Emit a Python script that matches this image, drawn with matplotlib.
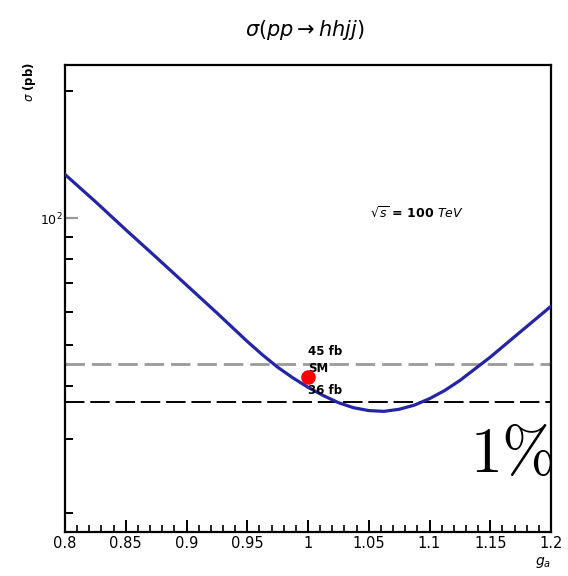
import numpy as np
import matplotlib
matplotlib.use("Agg")
import matplotlib.pyplot as plt
from matplotlib.ticker import FixedLocator, NullFormatter

# --- data ---
g_values = [0.8, 0.825, 0.85, 0.875, 0.9, 0.925, 0.95, 0.9625, 0.975,
            0.9875, 1.0, 1.0125, 1.025, 1.0375, 1.05, 1.0625, 1.075,
            1.0875, 1.1, 1.1125, 1.125, 1.15, 1.175, 1.2]
sigma_values = [127, 109.5, 93.9, 80.8, 69.4, 59.6, 51.0, 47.4, 44.3,
                41.8, 39.7, 37.95, 36.5, 35.5, 34.95, 34.8, 35.2,
                36.0, 37.3, 39.0, 41.2, 46.8, 53.8, 61.8]
sm_g = [1.0]
sm_sigma = [41.9]
band_upper = 45.0
band_lower = 36.6
band_labels = ["45 fb", "SM", "36 fb"]
x_ticks = [0.8, 0.85, 0.9, 0.95, 1.0, 1.05, 1.1, 1.15, 1.2]
x_ticklabels = ["0.8", "0.85", "0.9", "0.95", "1", "1.05", "1.1", "1.15", "1.2"]

W, H = 568, 576
fig = plt.figure(figsize=(W / 100, H / 100), dpi=100)
ax = fig.add_axes([65 / W, 1 - 532 / H, (551 - 65) / W, (532 - 65) / H])

# curve + SM point
ax.plot(g_values, sigma_values, color="#2424a6", lw=2.3, zorder=3,
        solid_joinstyle="round")
ax.plot(sm_g, sm_sigma, "o", color="red", ms=9.5, zorder=4)

# horizontal reference lines
ax.axhline(band_upper, color="#9a9a9a", lw=2.0, dashes=(7, 2.5), zorder=2)
ax.axhline(band_lower, color="black", lw=1.4, dashes=(10, 3), zorder=2)

ax.text(1.0, 48.3, band_labels[0], fontsize=8.5, fontweight="bold", ha="left", va="center")
ax.text(1.0, 44.0, band_labels[1], fontsize=8.5, fontweight="bold", ha="left", va="center")
ax.text(1.0, 38.9, band_labels[2], fontsize=8.5, fontweight="bold", ha="left", va="center")

ax.text(1.051, 103, r"$\sqrt{s}$ = 100 $TeV$", fontsize=9, fontweight="bold",
        ha="left", va="center")

# axes
ax.set_xlim(0.8, 1.2)
ax.set_yscale("log")
ax.set_ylim(18, 231)

ax.set_xticks(x_ticks)
ax.set_xticklabels(x_ticklabels)
ax.xaxis.set_minor_locator(FixedLocator(np.arange(0.8, 1.2001, 0.01)))
ax.set_yticks([100])
ax.set_yticklabels([r"$10^2$"])
ax.yaxis.set_minor_locator(FixedLocator([20, 30, 40, 50, 60, 70, 80, 90, 200]))
ax.yaxis.set_minor_formatter(NullFormatter())

ax.tick_params(axis="x", which="major", direction="in", length=9, width=1.4,
               labelsize=10.5, pad=3, top=False)
ax.tick_params(axis="x", which="minor", direction="in", length=5, width=1.2, top=False)
ax.tick_params(axis="y", which="major", direction="in", length=9, width=1.6,
               color="#999999", labelsize=9, pad=2, right=False)
ax.tick_params(axis="y", which="minor", direction="in", length=6, width=1.4, right=False)

for s in ax.spines.values():
    s.set_linewidth(1.6)

ax.set_xlabel(r"$g_{a}$", fontsize=10, loc="right", labelpad=3)
fig.text(30 / W, 1 - 62 / H, r"$\sigma$ (pb)", fontsize=8.5, fontweight="bold",
         rotation=90, ha="center", va="top")

fig.text(305 / W, 1 - 30 / H, r"$\sigma(pp \rightarrow hhjj)$", fontsize=15,
         ha="center", va="center")

# large annotation at bottom right
fig.text(470 / W, 1 - 472 / H, r"$1\%$", fontsize=46, ha="left", va="baseline",
         math_fontfamily="cm")

fig.savefig("out.png", dpi=100)
